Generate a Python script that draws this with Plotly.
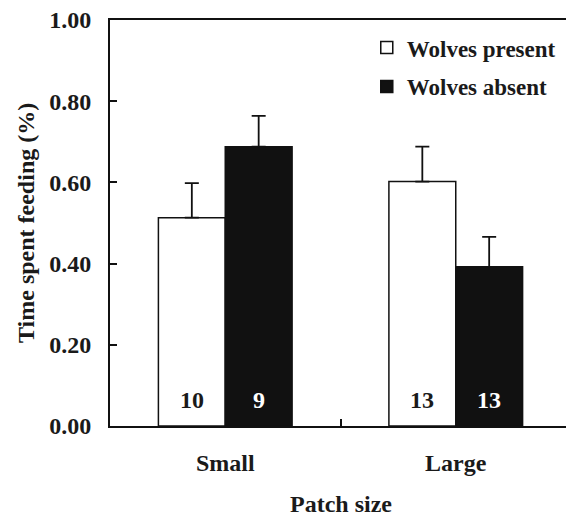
import plotly.graph_objects as go

categories = ["Small", "Large"]
present_vals = [0.513, 0.602]
present_err = [0.085, 0.086]
absent_vals = [0.688, 0.392]
absent_err = [0.076, 0.074]
present_n = ["10", "13"]
absent_n = ["9", "13"]
series_names = ["Wolves present", "Wolves absent"]
y_ticks = [0, 0.2, 0.4, 0.6, 0.8, 1.0]

FONT = "Liberation Serif, Times New Roman, serif"
TXT = "#1a1a1a"
SZ = 24

ML, MR, MT, MB = 102, 11, 12, 99
PW = 574 - ML - MR


def f(color=TXT, size=SZ):
    return dict(family=FONT, size=size, color=color, weight="bold")


fig = go.Figure()
fig.add_trace(go.Bar(
    x=categories, y=present_vals, name=series_names[0], legendgroup="p",
    marker=dict(color="white", line=dict(color="#111", width=1.5)),
    error_y=dict(type="data", array=present_err, arrayminus=[0, 0], symmetric=False,
                 color="#111", thickness=1.8, width=7),
))
fig.add_trace(go.Bar(
    x=categories, y=absent_vals, name=series_names[1], legendgroup="a",
    marker=dict(color="#111", line=dict(color="#111", width=1.5)),
    error_y=dict(type="data", array=absent_err, arrayminus=[0, 0], symmetric=False,
                 color="#111", thickness=1.8, width=7),
))

half = (1 - 0.42) / 4
for i, c in enumerate(categories):
    fig.add_annotation(x=i - half, y=0.065, xref="x", yref="y", text=present_n[i],
                       showarrow=False, font=f())
    fig.add_annotation(x=i + half, y=0.065, xref="x", yref="y", text=absent_n[i],
                       showarrow=False, font=f("white"))

# axis titles
fig.add_annotation(x=(18 - ML) / PW, y=0.5, xref="paper", yref="paper",
                   xanchor="center", yanchor="middle",
                   text="Time spent feeding (%)", textangle=-90, showarrow=False, font=f())
fig.add_annotation(x=0.5, y=0, xref="paper", yref="paper", yshift=-78,
                   xanchor="center", yanchor="middle",
                   text="Patch size", showarrow=False, font=f())

fig.update_layout(
    width=574, height=517,
    margin=dict(l=ML, r=MR, t=MT, b=MB, autoexpand=False),
    paper_bgcolor="white", plot_bgcolor="white",
    barmode="group", bargap=0.42, bargroupgap=0,
    font=f(),
    showlegend=True,
    legend=dict(x=0.557, y=0.985, xanchor="left", yanchor="top",
                bgcolor="rgba(0,0,0,0)", tracegroupgap=6, font=f(size=23)),
)

fig.update_xaxes(
    type="category", showline=True, mirror=True, linecolor="#111", linewidth=2,
    ticks="inside", tickson="boundaries", ticklen=7, tickcolor="#111", tickwidth=1.5,
    ticklabelstandoff=14, automargin=False, ticklabeloverflow="allow",
    tickfont=f(), showgrid=False, zeroline=False,
)
fig.update_yaxes(
    range=[0, 1], tickvals=y_ticks, tickformat=".2f",
    showline=True, mirror=True, linecolor="#111", linewidth=2,
    ticks="inside", ticklen=7, tickcolor="#111", tickwidth=1.5,
    ticklabelstandoff=12, automargin=False, ticklabeloverflow="allow",
    tickfont=f(), showgrid=False, zeroline=False,
)
fig.write_html("out.html")
